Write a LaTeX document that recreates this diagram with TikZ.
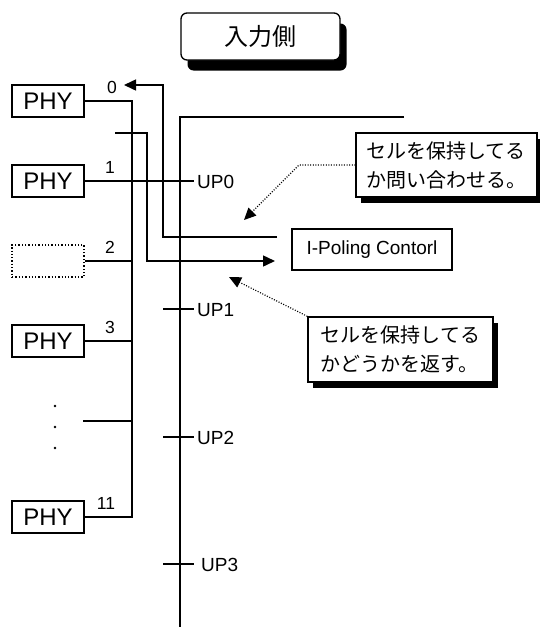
\documentclass[tikz,border=0pt]{standalone}
\usepackage{fontspec}
\setmainfont{Liberation Sans}
\newfontfamily\jp{Noto Sans CJK JP}
\usetikzlibrary{arrows.meta,shadows}
\begin{document}
\begin{tikzpicture}[x=1pt,y=-1pt,
  wire/.style={line width=1.5pt},
  phybox/.style={draw, line width=1.3pt, minimum width=72pt, minimum height=32pt, inner sep=0pt, font=\fontsize{24}{26}\selectfont},
  num/.style={font=\fontsize{17.5}{19}\selectfont, inner sep=0pt},
  uplabel/.style={font=\fontsize{19}{21}\selectfont, inner sep=0pt, anchor=west},
  arr/.style={-{Triangle[length=12pt,width=11pt]}},
  leader/.style={line width=1.2pt, dash pattern=on 1pt off 1.6pt, -{Triangle[length=12pt,width=11pt]}},
  callout/.style={draw, fill=white, line width=1.3pt, inner sep=0pt, align=left,
    font=\jp\fontsize{20}{29}\selectfont,
    drop shadow={shadow xshift=5pt, shadow yshift=-6pt, opacity=1, fill=black}},
]
\useasboundingbox (0,0) rectangle (539,627);

% title
\node[draw, fill=white, rounded corners=6pt, line width=1.3pt, minimum width=159pt, minimum height=47pt,
  font=\jp\fontsize{24}{28}\selectfont,
  drop shadow={shadow xshift=6.5pt, shadow yshift=-10.5pt, opacity=1, fill=black}] (title) at (260.5,36.5) {入力側};

% PHY boxes
\node[phybox] (phy0) at (48,101) {PHY};
\node[phybox] (phy1) at (48,181) {PHY};
\node[phybox, dotted, line width=1.5pt] (phy2) at (48,261) {};
\node[phybox] (phy3) at (48,341) {PHY};
\node[phybox] (phy11) at (48,517) {PHY};

% port numbers
\node[num] (n0) at (112,87) {0};
\node[num] (n1) at (110,167) {1};
\node[num] (n2) at (110,247) {2};
\node[num] (n3) at (110,327) {3};
\node[num] (n11) at (106,503) {11};

% dots
\fill (55,406) circle (1.3pt);
\fill (55,427) circle (1.3pt);
\fill (55,448) circle (1.3pt);

% PHY bus
\coordinate (busTop) at (132,101);
\coordinate (busBot) at (132,517);
\draw[wire] (phy0.east) -- (busTop) -- (busBot) -- (phy11.east);
\draw[wire] (phy2.east) -- (phy2.east -| busTop);
\draw[wire] (phy3.east) -- (phy3.east -| busTop);
\coordinate (dotsL) at (83,421);
\draw[wire] (dotsL) -- (dotsL -| busTop);

% main bus
\coordinate (mTR) at (404,117);
\coordinate (mTL) at (180,117);
\coordinate (mB) at (180,627);
\draw[wire] (mTR) -- (mTL) -- (mB);

% UP ports
\coordinate (up0) at (194,181);
\draw[wire] (phy1.east) -- (up0);
\node[uplabel] (lup0) at (197,182) {UP0};
\coordinate (t1a) at (163,309); \coordinate (t1b) at (194,309);
\coordinate (t2a) at (163,437); \coordinate (t2b) at (194,437);
\coordinate (t3a) at (163,564); \coordinate (t3b) at (194,564);
\draw[wire] (t1a) -- (t1b);
\draw[wire] (t2a) -- (t2b);
\draw[wire] (t3a) -- (t3b);
\node[uplabel] (lup1) at (197,310) {UP1};
\node[uplabel] (lup2) at (197,438) {UP2};
\node[uplabel] (lup3) at (201,565) {UP3};

% polling controller
\node[draw, line width=1.3pt, minimum width=160pt, minimum height=41pt, inner sep=0pt,
  font=\fontsize{19}{21}\selectfont] (ipc) at (372,249.5) {I-Poling Contorl};

% query / reply lines
\coordinate (qs) at (115,133);
\coordinate (qe) at (275,261);
\draw[wire, arr] (qs) -- (147,133) -- (147,261) -- (qe);
\coordinate (rs) at (277,237);
\coordinate (re) at (124,85);
\draw[wire, arr] (rs) -- (163,237) -- (163,85) -- (re);

% callouts
\node[callout, minimum width=181pt, minimum height=64pt] (q) at (446.5,165) {セルを保持してる\\か問い合わせる。};
\node[callout, minimum width=185pt, minimum height=65pt] (r) at (400.5,349.5) {セルを保持してる\\かどうかを返す。};

\coordinate (qa) at (244,220);
\coordinate (ra) at (229,277);
\draw[leader] (q.west) -- (299,165) -- (qa);
\draw[leader] (r.north west) -- (ra);
\end{tikzpicture}
\end{document}
